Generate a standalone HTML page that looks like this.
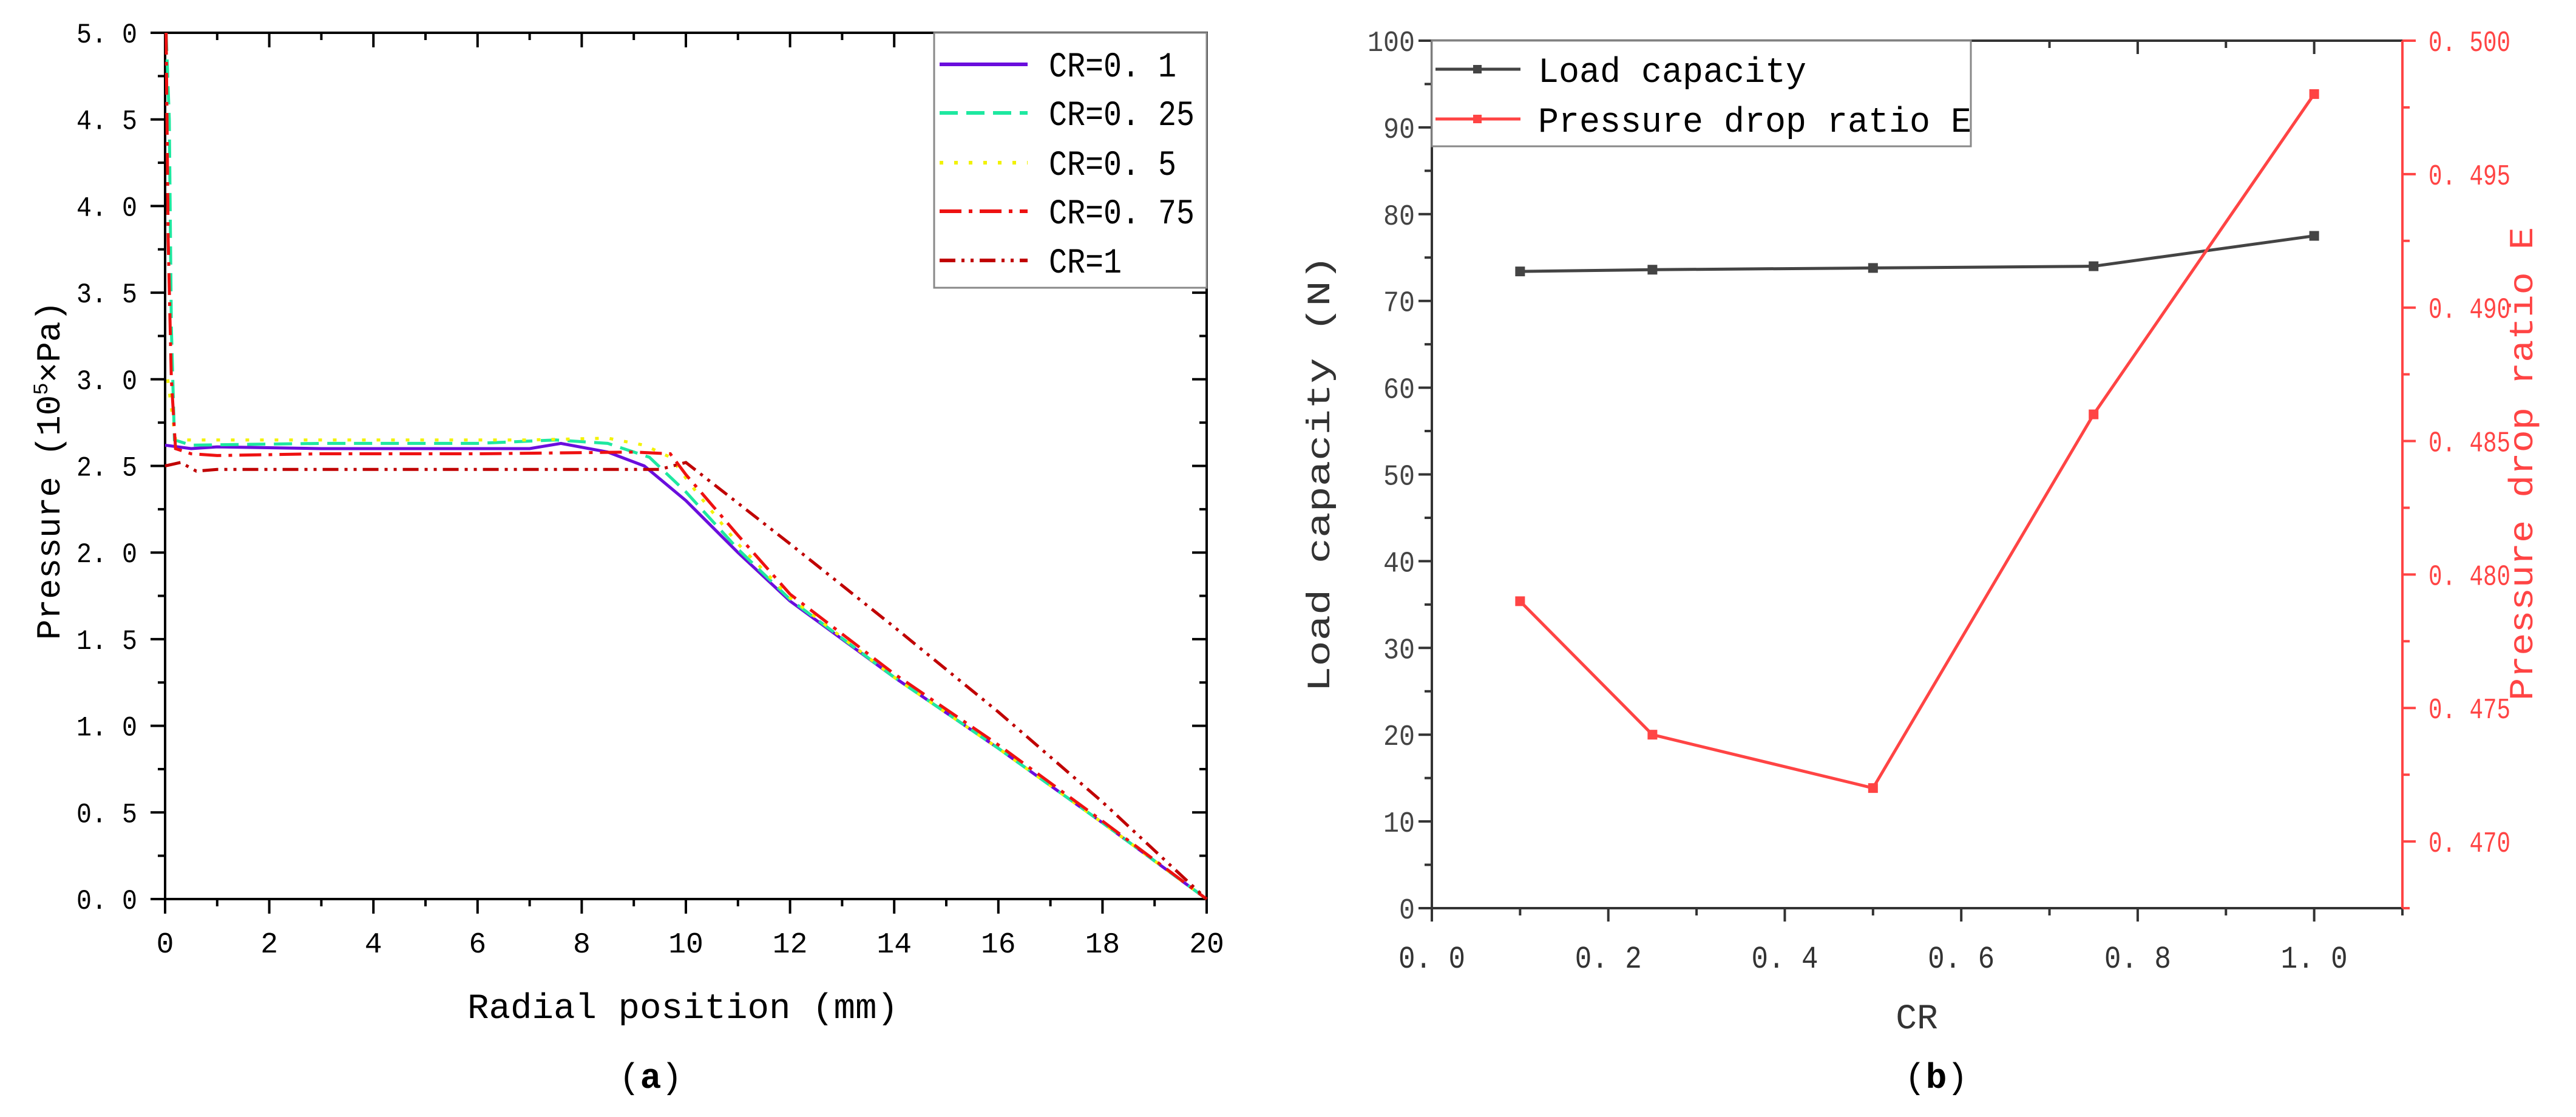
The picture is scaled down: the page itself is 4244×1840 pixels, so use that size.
<!DOCTYPE html>
<html><head><meta charset="utf-8"><style>
html,body{margin:0;padding:0;background:#fff;}
svg{display:block;}
text{font-family:"Liberation Mono","Noto Sans CJK SC",monospace;}
</style></head><body>
<svg id="fig" width="4244" height="1840" viewBox="0 0 4244 1840">
<g id="pa"></g>
<g id="pb"></g>
</svg>
<script>
// ---------- Panel (a) data ----------
const aNames = ["CR=0. 1","CR=0. 25","CR=0. 5","CR=0. 75","CR=1"];
const aX01 = [0,0.5,1,3,6,7,7.6,8.5,9.2,10,11,12,14,16,18,20];
const aY01 = [2.62,2.6,2.61,2.6,2.6,2.6,2.63,2.58,2.5,2.3,2.0,1.72,1.28,0.87,0.44,0];
const aX025 = [0.02,0.08,0.12,0.18,0.5,3,6,7.5,8.5,9.3,10,11,12,14,16,18,20];
const aY025 = [5.0,4.5,3.3,2.65,2.62,2.63,2.63,2.65,2.63,2.55,2.35,2.02,1.73,1.28,0.87,0.44,0];
const aX05 = [0.05,0.2,1,4,7,8.5,9.2,9.7,10.2,11,12,14,16,18,20];
const aY05 = [3.0,2.65,2.65,2.65,2.65,2.66,2.62,2.55,2.35,2.05,1.74,1.28,0.87,0.44,0];
const aX075 = [0.02,0.06,0.12,0.2,0.5,1,3,6,9,9.7,10,11,12,14,16,18,20];
const aY075 = [5.0,3.8,3.0,2.6,2.57,2.56,2.57,2.57,2.58,2.57,2.45,2.1,1.76,1.3,0.89,0.45,0];
const aX1 = [0,0.3,0.6,1,4,8,9.5,10,12,14,16,18,20];
const aY1 = [2.5,2.52,2.47,2.48,2.48,2.48,2.48,2.52,2.05,1.57,1.08,0.56,0];
const aXTicks = [0,2,4,6,8,10,12,14,16,18,20];
const aYTicks = [0,0.5,1,1.5,2,2.5,3,3.5,4,4.5,5];
const aYLabels = ["0. 0","0. 5","1. 0","1. 5","2. 0","2. 5","3. 0","3. 5","4. 0","4. 5","5. 0"];
// ---------- Panel (b) data ----------
const bCR = [0.1,0.25,0.5,0.75,1.0];
const bLoad = [73.4,73.6,73.8,74.0,77.5];
const bE = [0.479,0.474,0.472,0.486,0.498];
const bXTicks = [0,0.2,0.4,0.6,0.8,1.0];
const bXLabels = ["0. 0","0. 2","0. 4","0. 6","0. 8","1. 0"];
const bYTicks = [0,10,20,30,40,50,60,70,80,90,100];
const bY2Ticks = [0.470,0.475,0.480,0.485,0.490,0.495,0.500];
const bY2Labels = ["0. 470","0. 475","0. 480","0. 485","0. 490","0. 495","0. 500"];

const NS="http://www.w3.org/2000/svg";
function mk(parent,tag,attrs,txt){const e=document.createElementNS(NS,tag);for(const k in attrs)e.setAttribute(k,attrs[k]);if(txt!==undefined)e.textContent=txt;parent.appendChild(e);return e;}

// ---------- Panel A ----------
const pa=document.getElementById('pa');
const AL=272,AR=1988,AT=54,AB=1481;
const ax=v=>AL+(v/20)*(AR-AL), ay=v=>AB-(v/5)*(AB-AT);
for(let i=0;i<aXTicks.length;i++){
  const x=ax(aXTicks[i]);
  let t=mk(pa,'line',{x1:x,y1:AB,x2:x,y2:AB+24,stroke:'#000','stroke-width':4});
  
  mk(pa,'line',{x1:x,y1:AT,x2:x,y2:AT+24,stroke:'#000','stroke-width':4});
  if(i<aXTicks.length-1){const xm=ax(aXTicks[i]+1);mk(pa,'line',{x1:xm,y1:AB,x2:xm,y2:AB+12,stroke:'#000','stroke-width':4});mk(pa,'line',{x1:xm,y1:AT,x2:xm,y2:AT+12,stroke:'#000','stroke-width':4});}
  let l=mk(pa,'text',{x:x,y:AB+88,'font-size':48,'text-anchor':'middle'},String(aXTicks[i]));
  
}
for(let i=0;i<aYTicks.length;i++){
  const y=ay(aYTicks[i]);
  mk(pa,'line',{x1:AL-24,y1:y,x2:AL,y2:y,stroke:'#000','stroke-width':4});
  mk(pa,'line',{x1:AR-24,y1:y,x2:AR,y2:y,stroke:'#000','stroke-width':4});
  if(i<aYTicks.length-1){const ym=ay(aYTicks[i]+0.25);mk(pa,'line',{x1:AL-12,y1:ym,x2:AL,y2:ym,stroke:'#000','stroke-width':4});mk(pa,'line',{x1:AR-12,y1:ym,x2:AR,y2:ym,stroke:'#000','stroke-width':4});}
  let l=mk(pa,'text',{x:AL-46,y:y+16,'font-size':46,'text-anchor':'end',textLength:100,lengthAdjust:'spacingAndGlyphs'},aYLabels[i]);
  
}
let fa=mk(pa,'rect',{x:AL,y:AT,width:AR-AL,height:AB-AT,fill:'none',stroke:'#000','stroke-width':4});

const aSeries=[
 {x:aX01,y:aY01,c:'#6a0ddd',d:'none'},
 {x:aX025,y:aY025,c:'#1ee8a0',d:'30,14'},
 {x:aX05,y:aY05,c:'#f2f200',d:'6,18'},
 {x:aX075,y:aY075,c:'#ee1111',d:'36,12,6,12'},
 {x:aX1,y:aY1,c:'#c00000',d:'26,10,5,10,5,10'}];
aSeries.forEach((s,k)=>{
  const pts=s.x.map((v,i)=>ax(v).toFixed(1)+','+ay(s.y[i]).toFixed(1)).join(' ');
  let p=mk(pa,'polyline',{points:pts,fill:'none',stroke:s.c,'stroke-width':5,'stroke-dasharray':s.d});
  
});
let lga=mk(pa,'rect',{x:1539,y:AT,width:AR-1539,height:420,fill:'#fff',stroke:'#888','stroke-width':3});

const aRows=[106,186,268,348,429];
aSeries.forEach((s,k)=>{
  mk(pa,'line',{x1:1548,y1:aRows[k],x2:1693,y2:aRows[k],stroke:s.c,'stroke-width':6,'stroke-dasharray':s.d});
  let t=mk(pa,'text',{x:1728,y:aRows[k]+20,'font-size':58,textLength:30*aNames[k].length,lengthAdjust:'spacingAndGlyphs'},aNames[k]);
  
});
let yta=mk(pa,'text',{x:0,y:0,'font-size':56,'text-anchor':'middle',transform:'translate(98,775) rotate(-90)'});

yta.innerHTML='Pressure (10<tspan dy="-20" font-size="34">5</tspan><tspan dy="20">×Pa)</tspan>';
let xta=mk(pa,'text',{x:1125,y:1677,'font-size':58,'text-anchor':'middle',textLength:710,lengthAdjust:'spacingAndGlyphs'},'Radial position (mm)');

let ca=mk(pa,'text',{x:1072,y:1792,'font-size':58,'text-anchor':'middle','font-family':'Liberation Serif, serif'});
ca.innerHTML='(<tspan font-weight="bold">a</tspan>)';


// ---------- Panel B ----------
const pb=document.getElementById('pb');
const BL=2359,BR=3958,BT=67,BB=1496;
const bx=v=>BL+(v/1.1)*(BR-BL), by=v=>BB-(v/100)*(BB-BT), by2=v=>BB-((v-0.4675)/(0.5-0.4675))*(BB-BT);
for(let i=0;i<bXTicks.length;i++){
  const x=bx(bXTicks[i]);
  mk(pb,'line',{x1:x,y1:BB,x2:x,y2:BB+22,stroke:'#333','stroke-width':4});
  mk(pb,'line',{x1:x,y1:BT,x2:x,y2:BT+22,stroke:'#333','stroke-width':4});
  const xm=bx(bXTicks[i]+0.1);mk(pb,'line',{x1:xm,y1:BB,x2:xm,y2:BB+12,stroke:'#333','stroke-width':4});mk(pb,'line',{x1:xm,y1:BT,x2:xm,y2:BT+12,stroke:'#333','stroke-width':4});
  let l=mk(pb,'text',{x:x,y:BB+98,'font-size':52,'text-anchor':'middle',textLength:110,lengthAdjust:'spacingAndGlyphs',fill:'#333'},bXLabels[i]);
  
}
for(let i=0;i<bYTicks.length;i++){
  const y=by(bYTicks[i]);
  mk(pb,'line',{x1:BL-22,y1:y,x2:BL,y2:y,stroke:'#333','stroke-width':4});
  if(i<bYTicks.length-1){const ym=by(bYTicks[i]+5);mk(pb,'line',{x1:BL-12,y1:ym,x2:BL,y2:ym,stroke:'#333','stroke-width':4});}
  let l=mk(pb,'text',{x:BL-28,y:y+17,'font-size':48,'text-anchor':'end',fill:'#444',textLength:String(bYTicks[i]).length*26,lengthAdjust:'spacingAndGlyphs'},String(bYTicks[i]));
  
}
for(let i=0;i<bY2Ticks.length;i++){
  const y=by2(bY2Ticks[i]);
  mk(pb,'line',{x1:BR,y1:y,x2:BR+22,y2:y,stroke:'#f44','stroke-width':4});
  const ym=by2(bY2Ticks[i]-0.0025);mk(pb,'line',{x1:BR,y1:ym,x2:BR+12,y2:ym,stroke:'#f44','stroke-width':4});
  let l=mk(pb,'text',{x:4001,y:y+17,'font-size':48,fill:'#f44',textLength:135,lengthAdjust:'spacingAndGlyphs'},bY2Labels[i]);
  
}
mk(pb,'line',{x1:BL,y1:BT,x2:BR,y2:BT,stroke:'#333','stroke-width':4});
mk(pb,'line',{x1:BL,y1:BT,x2:BL,y2:BB,stroke:'#333','stroke-width':4});
mk(pb,'line',{x1:BL,y1:BB,x2:BR,y2:BB,stroke:'#333','stroke-width':4});
let ry=mk(pb,'line',{x1:BR,y1:BT,x2:BR,y2:BB,stroke:'#f44','stroke-width':4});

let lp=mk(pb,'polyline',{points:bCR.map((c,i)=>bx(c)+','+by(bLoad[i])).join(' '),fill:'none',stroke:'#444','stroke-width':5});

let ep=mk(pb,'polyline',{points:bCR.map((c,i)=>bx(c)+','+by2(bE[i])).join(' '),fill:'none',stroke:'#f44','stroke-width':5});

bCR.forEach((c,i)=>{
  let m=mk(pb,'rect',{x:bx(c)-8,y:by(bLoad[i])-8,width:16,height:16,fill:'#444'});
  
  let n=mk(pb,'rect',{x:bx(c)-8,y:by2(bE[i])-8,width:16,height:16,fill:'#f44'});
  
});
let lgb=mk(pb,'rect',{x:BL,y:BT,width:888,height:174,fill:'#fff',stroke:'#888','stroke-width':3});

[['Load capacity','#444',114],['Pressure drop ratio E','#f44',196]].forEach(r=>{
  mk(pb,'line',{x1:2365,y1:r[2],x2:2505,y2:r[2],stroke:r[1],'stroke-width':5});
  mk(pb,'rect',{x:2427,y:r[2]-7,width:14,height:14,fill:r[1]});
  let t=mk(pb,'text',{x:2534,y:r[2]+21,'font-size':58,textLength:r[0].length*34,lengthAdjust:'spacingAndGlyphs'},r[0]);
  
});
let ytb=mk(pb,'text',{x:0,y:0,'font-size':54,'text-anchor':'middle',fill:'#333',transform:'translate(2190,780) rotate(-90)',textLength:720,lengthAdjust:'spacingAndGlyphs'},'Load capacity (N)');

let ytb2=mk(pb,'text',{x:0,y:0,'font-size':56,'text-anchor':'middle',fill:'#f44',transform:'translate(4172,764) rotate(-90)',textLength:780,lengthAdjust:'spacingAndGlyphs'},'Pressure drop ratio E');

let xtb=mk(pb,'text',{x:3158,y:1694,'font-size':58,'text-anchor':'middle',fill:'#333'},'CR');

let cb=mk(pb,'text',{x:3190,y:1792,'font-size':58,'text-anchor':'middle','font-family':'Liberation Serif, serif'});
cb.innerHTML='(<tspan font-weight="bold">b</tspan>)';

</script>
</body></html>
